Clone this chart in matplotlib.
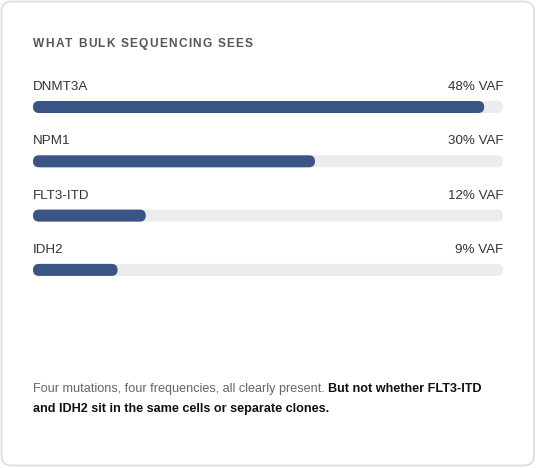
import matplotlib
matplotlib.use("Agg")
import matplotlib.pyplot as plt
from matplotlib.patches import FancyBboxPatch

plt.rcParams['font.family'] = ['Liberation Sans', 'DejaVu Sans']

# data
genes = ['DNMT3A', 'NPM1', 'FLT3-ITD', 'IDH2']
vaf = [48, 30, 12, 9]
vaf_max = 50
title = 'WHAT BULK SEQUENCING SEES'
note_plain = 'Four mutations, four frequencies, all clearly present. '
note_bold_1 = 'But not whether FLT3-ITD'
note_bold_2 = 'and IDH2 sit in the same cells or separate clones.'

W, H = 536, 468
fig = plt.figure(figsize=(W / 100, H / 100), dpi=100)
fig.patch.set_facecolor('white')

# background axes in pixel units for the card and free text
bg = fig.add_axes([0, 0, 1, 1])
bg.set_xlim(0, W)
bg.set_ylim(H, 0)
bg.axis('off')
bg.add_patch(FancyBboxPatch((1.5, 1.5), W - 3.5, H - 4, boxstyle='round,pad=0,rounding_size=10',
                            fc='white', ec='#dcdcdc', lw=1.2))

fig.canvas.draw()
renderer = fig.canvas.get_renderer()


def tracked_text(ax, x, y, s, spacing, **kw):
    # draw text char by char to get letter spacing
    for ch in s:
        t = ax.text(x, y, ch, **kw)
        bb = t.get_window_extent(renderer)
        x += bb.width + spacing


tracked_text(bg, 33, 47, title, 1.25, fontsize=8.6, fontweight='bold', color='#555555', va='baseline')

# bar axes: x in VAF units, y in row index
top_px, bot_px = 80, 281
ax = fig.add_axes([33 / W, (H - bot_px) / H, 470 / W, (bot_px - top_px) / H])
row_step = 54.3
ylo = -(107 - top_px) / row_step
yhi = ylo + (bot_px - top_px) / row_step
ax.set_xlim(0, vaf_max)
ax.set_ylim(yhi, ylo)
ax.axis('off')

px_x = 470 / vaf_max
bar_h = 12 / row_step
aspect = (1 / row_step) / (1 / px_x)
r = 6 / px_x
label_off = 17 / row_step

for i, (g, v) in enumerate(zip(genes, vaf)):
    ax.add_patch(FancyBboxPatch((0, i - bar_h / 2), vaf_max, bar_h,
                                boxstyle=f'round,pad=0,rounding_size={r}', mutation_aspect=aspect,
                                fc='#ececec', ec='none'))
    ax.add_patch(FancyBboxPatch((0, i - bar_h / 2), v, bar_h,
                                boxstyle=f'round,pad=0,rounding_size={r}', mutation_aspect=aspect,
                                fc='#3a5485', ec='none'))
    ax.text(0, i - label_off, g, fontsize=9.6, color='#333333', va='baseline', ha='left')
    ax.text(vaf_max, i - label_off, f'{v}% VAF', fontsize=9.6, color='#333333',
            va='baseline', ha='right')

# footnote with mixed styling
t1 = bg.text(33, 392, note_plain, fontsize=9.1, color='#666666', va='baseline')
bb = t1.get_window_extent(renderer)
bg.text(bb.x1, 392, note_bold_1, fontsize=9.1, color='#111111', fontweight='bold', va='baseline')
bg.text(33, 412, note_bold_2, fontsize=9.1, color='#111111', fontweight='bold', va='baseline')

fig.savefig('out.png', dpi=100, facecolor='white')
